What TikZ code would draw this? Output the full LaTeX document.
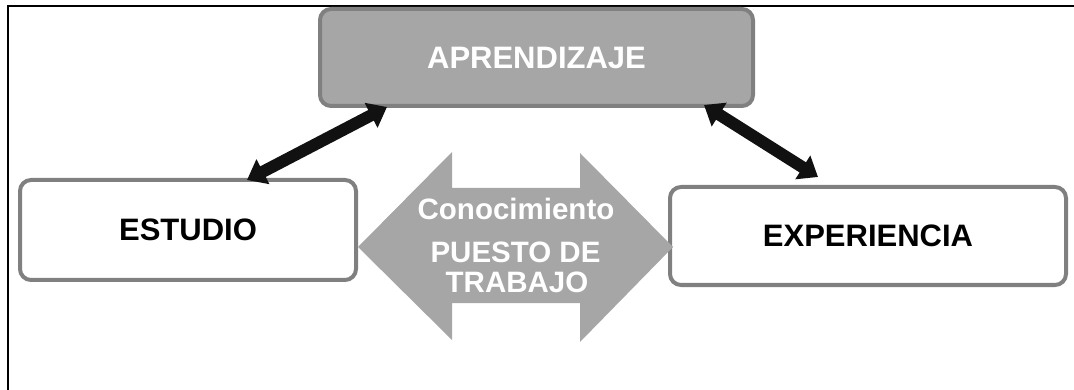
\documentclass[tikz,border=0pt]{standalone}
\usepackage{fontspec}
\setmainfont{Liberation Sans}
\usetikzlibrary{arrows.meta}
\definecolor{boxborder}{RGB}{128,128,128}
\definecolor{boxfill}{RGB}{166,166,166}
\definecolor{arrowfill}{RGB}{166,166,166}
\definecolor{arrowblack}{RGB}{17,17,17}
\tikzset{
  box/.style={draw=boxborder, line width=4pt, rounded corners=11pt, inner sep=0pt,
    font=\fontsize{31}{36}\selectfont\bfseries},
  arrtext/.style={text=white, anchor=base, inner sep=0pt, font=\fontsize{29.5}{30}\selectfont\bfseries},
  blk/.style={draw=arrowblack, line width=12pt,
    {Triangle[width=27pt,length=18pt]}-{Triangle[width=27pt,length=18pt]}},
  frame/.style={draw=black, line width=2pt}
}
\begin{document}
\begin{tikzpicture}[x=1pt,y=-1pt]
\useasboundingbox (0,0) rectangle (1074,390);
% frame (top and left only)
\coordinate (fr1) at (1074,6);
\coordinate (fr2) at (8,6);
\coordinate (fr3) at (8,390);
\draw[frame] (fr1) -- (fr2) -- (fr3);
% boxes
\node[box, fill=boxfill, text=white, minimum width=433pt, minimum height=97pt] (apr) at (536.5,57.5) {APRENDIZAJE};
\node[box, fill=white, minimum width=336pt, minimum height=100pt] (est) at (188,230) {ESTUDIO};
\node[box, fill=white, minimum width=396pt, minimum height=98pt] (exp) at (868,236) {EXPERIENCIA};
% big double arrow
\fill[arrowfill] (358,247) -- (452,152) -- (452,188) -- (580,188) -- (580,153) -- (673,247)
  -- (580,342) -- (580,303) -- (452,303) -- (452,340) -- cycle;
\node[arrtext] (con) at (516,220) {Conocimiento};
\node[arrtext] (pue) at (515.5,262) {PUESTO DE};
\node[arrtext] (tra) at (517,292) {TRABAJO};
% black double arrows
\coordinate (a1) at (387,107);
\coordinate (e1) at (247,180);
\coordinate (a2) at (704,105);
\coordinate (x1) at (818,177);
\draw[blk] (a1) -- (e1);
\draw[blk] (a2) -- (x1);
\end{tikzpicture}
\end{document}
